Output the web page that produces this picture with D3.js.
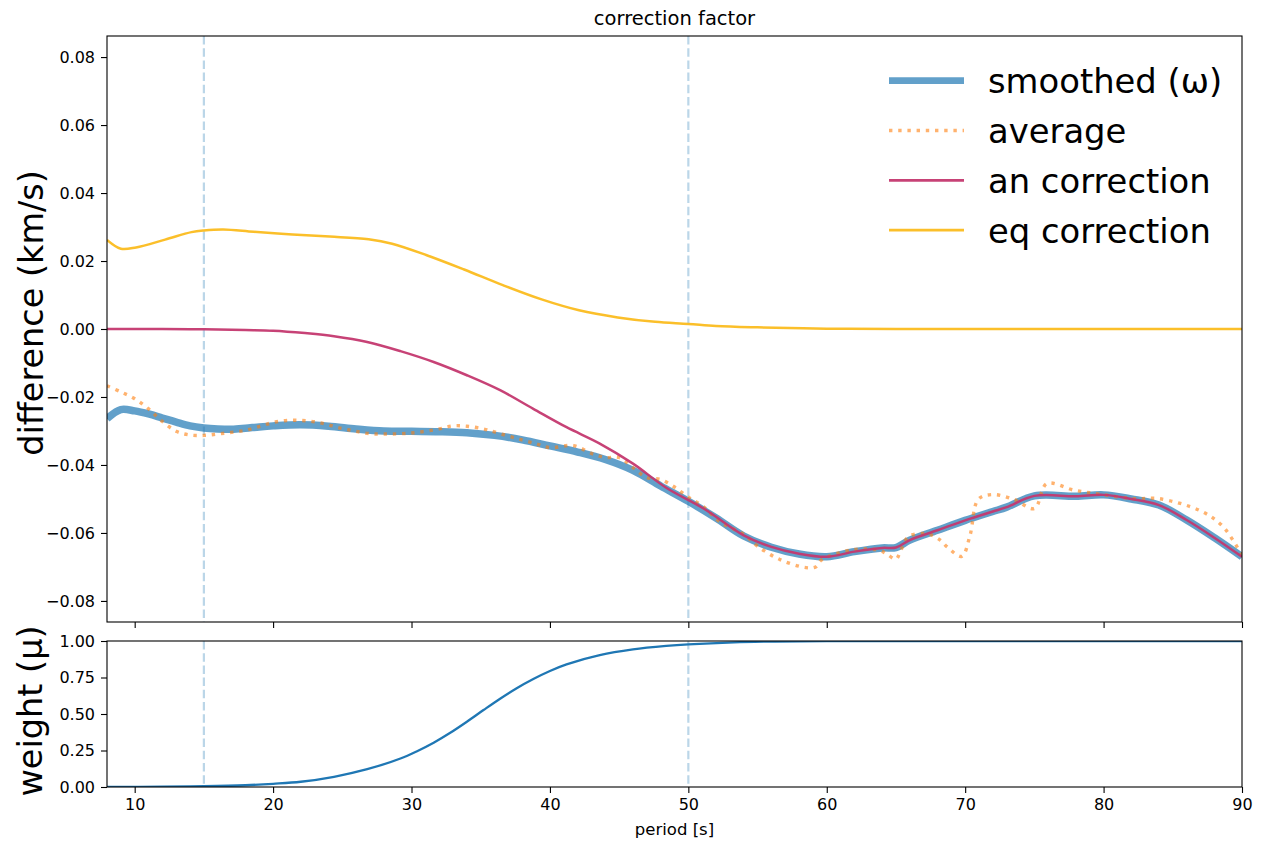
<!DOCTYPE html>
<html>
<head>
<meta charset="utf-8">
<script src="https://cdn.jsdelivr.net/npm/d3@7"></script>
<style>
  body { margin: 0; background: #fff; }
  text { font-family: "DejaVu Sans", sans-serif; fill: #000; }
</style>
</head>
<body>
<div id="chart"></div>
<script>
// smoothed (omega)
var smoothPeriod = [8, 9, 10, 11, 12, 13, 14, 15, 16, 17, 18, 19, 20, 22, 24, 26, 28, 30, 32, 34, 36, 38, 40, 42, 44, 46, 48, 50, 52, 54, 56, 58, 60, 62, 64, 65, 66, 68, 70, 72, 73, 75, 78, 80, 82, 84, 86, 88, 90]
var smoothValue = [-0.0264, -0.0237, -0.0241, -0.0250, -0.0262, -0.0274, -0.0285, -0.0291, -0.0294, -0.0295, -0.0292, -0.0288, -0.0285, -0.0282, -0.0286, -0.0294, -0.0300, -0.0301, -0.0302, -0.0305, -0.0313, -0.0326, -0.0344, -0.0362, -0.0384, -0.0416, -0.0462, -0.0507, -0.0556, -0.0609, -0.0642, -0.0662, -0.0670, -0.0655, -0.0644, -0.0643, -0.0621, -0.0592, -0.0563, -0.0537, -0.0524, -0.0491, -0.0492, -0.0488, -0.0500, -0.0518, -0.0562, -0.0614, -0.0670]

// average
var avgPeriod = [8, 9, 10, 11, 12, 13, 14, 15, 16, 17, 18, 19, 20, 21, 22, 23, 24, 25, 26, 27, 28, 30, 32, 33, 34, 35.2, 36, 37.6, 39, 40, 41.7, 43, 44, 45, 46, 47, 48, 49, 50, 51, 52.3, 54, 55, 56.6, 58.5, 59.2, 59.6, 61.9, 63.8, 64.3, 65, 65.3, 65.9, 67.2, 68.2, 68.7, 69.75, 70.35, 70.95, 72, 73.5, 75, 75.9, 77.85, 79.75, 82.2, 84, 87, 88.6, 90]
var avgValue = [-0.0167, -0.0185, -0.0205, -0.0235, -0.0272, -0.0301, -0.0312, -0.0313, -0.0309, -0.0304, -0.0298, -0.0287, -0.0275, -0.0269, -0.0269, -0.0273, -0.0282, -0.0293, -0.0301, -0.0308, -0.0309, -0.0306, -0.0294, -0.0285, -0.0286, -0.0294, -0.0303, -0.0322, -0.0338, -0.0349, -0.0343, -0.0366, -0.0378, -0.0378, -0.0408, -0.0437, -0.0443, -0.0465, -0.0495, -0.0520, -0.0568, -0.0604, -0.0639, -0.0678, -0.0702, -0.0700, -0.0680, -0.0649, -0.0651, -0.0661, -0.0677, -0.0656, -0.0611, -0.0602, -0.0621, -0.0641, -0.0669, -0.0607, -0.0501, -0.0487, -0.0501, -0.0528, -0.0455, -0.0474, -0.0486, -0.0499, -0.0499, -0.0535, -0.0580, -0.0666]

// an correction
var anPeriod = [8, 12, 15, 18, 20, 22.3, 24.4, 26.8, 29.2, 31.6, 34, 36.4, 38.8, 41.2, 43.6, 46, 48.4, 51.1, 54, 56, 58, 60, 62, 64, 65, 66, 68, 70, 72, 73, 75, 78, 80, 82, 84, 86, 88, 90]
var anValue = [0, 0, -0.0001, -0.0003, -0.0005, -0.0012, -0.0021, -0.0038, -0.0065, -0.0097, -0.0136, -0.0180, -0.0235, -0.0289, -0.0337, -0.0396, -0.0467, -0.0528, -0.0607, -0.0641, -0.0661, -0.0670, -0.0655, -0.0644, -0.0643, -0.0621, -0.0592, -0.0563, -0.0537, -0.0524, -0.0491, -0.0492, -0.0488, -0.0500, -0.0518, -0.0562, -0.0614, -0.0670]

// eq correction
var eqPeriod = [8, 9, 10.1, 12.2, 14.1, 15, 16.4, 18.6, 21.4, 24.1, 26.9, 28.6, 31.1, 33.8, 36.6, 39.4, 42.1, 44.9, 47.6, 50, 52, 55, 60, 65, 90]
var eqValue = [0.0262, 0.0236, 0.0240, 0.0263, 0.0285, 0.0290, 0.0293, 0.0286, 0.0278, 0.0272, 0.0264, 0.0251, 0.0217, 0.0175, 0.0129, 0.0087, 0.0055, 0.0034, 0.0021, 0.0015, 0.0009, 0.0005, 0.0001, 0, 0]

// weight (mu)
var weightPeriod = [8, 12, 15, 18, 20, 22, 24.4, 26.8, 29.2, 30.4, 31.6, 32.8, 34, 35.2, 36.4, 37.6, 38.8, 40, 41.2, 43.6, 46, 48.4, 50, 53.3, 56, 60, 70, 90]
var weightValue = [0.001, 0.002, 0.005, 0.012, 0.022, 0.036, 0.070, 0.122, 0.195, 0.245, 0.303, 0.371, 0.447, 0.527, 0.605, 0.677, 0.740, 0.795, 0.840, 0.903, 0.942, 0.966, 0.977, 0.991, 0.996, 0.999, 1.0, 1.0]

var markerPeriods = [15, 50]
var xTicks = [10, 20, 30, 40, 50, 60, 70, 80, 90]
var topTicks = [-0.08, -0.06, -0.04, -0.02, 0.00, 0.02, 0.04, 0.06, 0.08]
var bottomTicks = [0, 0.25, 0.5, 0.75, 1.0]
var legendLabels = ['smoothed (ω)', 'average', 'an correction', 'eq correction']

function zip(px, vals){
    return px.map(function(p, i){ return {x: p, y: vals[i]} })
}

var W = 1261, H = 842
var left = 107, right = 1242
var top1 = 36, bot1 = 622
var top2 = 641, bot2 = 787

var svg = d3.select("#chart").append("svg")
    .attr("width", W)
    .attr("height", H)

var x = d3.scaleLinear().domain([8, 90]).range([left, right])
var y1 = d3.scaleLinear().domain([-0.0862, 0.0862]).range([bot1, top1])
var y2 = d3.scaleLinear().domain([0, 1]).range([bot2, top2])

var minus = function(v, digits){ return d3.format("." + digits + "f")(v).replace("-", "\u2212") }

// clip paths for both panels
var defs = svg.append("defs")
defs.append("clipPath").attr("id", "clipTop").append("rect")
    .attr("x", left).attr("y", top1).attr("width", right - left).attr("height", bot1 - top1)
defs.append("clipPath").attr("id", "clipBot").append("rect")
    .attr("x", left).attr("y", top2).attr("width", right - left).attr("height", bot2 - top2)

var lineTop = d3.line().x(function(d){ return x(d.x) }).y(function(d){ return y1(d.y) }).curve(d3.curveCatmullRom.alpha(0.5))
var lineBot = d3.line().x(function(d){ return x(d.x) }).y(function(d){ return y2(d.y) }).curve(d3.curveCatmullRom.alpha(0.5))

var gTop = svg.append("g").attr("clip-path", "url(#clipTop)")
var gBot = svg.append("g").attr("clip-path", "url(#clipBot)")

// dashed markers
markerPeriods.forEach(function(p){
    gTop.append("line").attr("x1", x(p)).attr("x2", x(p)).attr("y1", top1).attr("y2", bot1)
        .attr("stroke", "#1f77b4").attr("stroke-opacity", 0.3).attr("stroke-width", 2.2).attr("stroke-dasharray", "8.5,3.7")
    gBot.append("line").attr("x1", x(p)).attr("x2", x(p)).attr("y1", top2).attr("y2", bot2)
        .attr("stroke", "#1f77b4").attr("stroke-opacity", 0.3).attr("stroke-width", 2.2).attr("stroke-dasharray", "8.5,3.7")
})

var series = [
    {data: zip(smoothPeriod, smoothValue), color: "#1f77b4", opacity: 0.7, width: 7.5, dash: null},
    {data: zip(avgPeriod, avgValue), color: "#ff7f0e", opacity: 0.6, width: 3.4, dash: "3.4,5.8"},
    {data: zip(anPeriod, anValue), color: "#c4386f", opacity: 0.95, width: 2.5, dash: null},
    {data: zip(eqPeriod, eqValue), color: "#fbbc1f", opacity: 0.95, width: 2.5, dash: null}
]

series.forEach(function(s){
    gTop.append("path")
        .attr("d", lineTop(s.data))
        .attr("fill", "none")
        .attr("stroke", s.color)
        .attr("stroke-opacity", s.opacity)
        .attr("stroke-width", s.width)
        .attr("stroke-dasharray", s.dash)
})

gBot.append("path")
    .attr("d", lineBot(zip(weightPeriod, weightValue)))
    .attr("fill", "none")
    .attr("stroke", "#1f77b4")
    .attr("stroke-width", 2.3)

// axes
function styleAxis(g){
    g.select(".domain").remove()
    g.selectAll(".tick line").attr("stroke", "#000").attr("stroke-width", 1.1)
    g.selectAll(".tick text").style("font-family", "DejaVu Sans").style("font-size", "16px").attr("fill", "#000")
}

svg.append("g").attr("transform", "translate(0," + bot1 + ")")
    .call(d3.axisBottom(x).tickValues(xTicks).tickSize(6).tickFormat(""))
    .call(styleAxis)
svg.append("g").attr("transform", "translate(" + left + ",0)")
    .call(d3.axisLeft(y1).tickValues(topTicks).tickSize(6).tickPadding(6).tickFormat(function(d){ return minus(d, 2) }))
    .call(styleAxis)

svg.append("g").attr("transform", "translate(0," + bot2 + ")")
    .call(d3.axisBottom(x).tickValues(xTicks).tickSize(6).tickPadding(6).tickFormat(d3.format("d")))
    .call(styleAxis)
svg.append("g").attr("transform", "translate(" + left + ",0)")
    .call(d3.axisLeft(y2).tickValues(bottomTicks).tickSize(6).tickPadding(6).tickFormat(function(d){ return minus(d, 2) }))
    .call(styleAxis)

// frames
svg.append("rect").attr("x", left).attr("y", top1).attr("width", right - left).attr("height", bot1 - top1)
    .attr("fill", "none").attr("stroke", "#000").attr("stroke-width", 1.1)
svg.append("rect").attr("x", left).attr("y", top2).attr("width", right - left).attr("height", bot2 - top2)
    .attr("fill", "none").attr("stroke", "#000").attr("stroke-width", 1.1)

// labels
svg.append("text").attr("x", (left + right) / 2).attr("y", 25).attr("text-anchor", "middle")
    .style("font-size", "19.5px").text("correction factor")
svg.append("text").attr("x", (left + right) / 2).attr("y", 835).attr("text-anchor", "middle")
    .style("font-size", "16.5px").text("period [s]")
svg.append("text").attr("transform", "translate(43," + 313 + ") rotate(-90)").attr("text-anchor", "middle")
    .style("font-size", "33.5px").text("difference (km/s)")
svg.append("text").attr("transform", "translate(42," + 711 + ") rotate(-90)").attr("text-anchor", "middle")
    .style("font-size", "33.5px").text("weight (μ)")

// legend
var legend = svg.append("g")
legendLabels.forEach(function(lbl, i){
    var s = series[i]
    var ly = 80.7 + i * 49.8
    legend.append("line").attr("x1", 889).attr("x2", 964).attr("y1", ly).attr("y2", ly)
        .attr("stroke", s.color).attr("stroke-opacity", s.opacity)
        .attr("stroke-width", i == 0 ? 6.7 : (i == 1 ? 3.4 : 2.7))
        .attr("stroke-dasharray", s.dash)
    legend.append("text").attr("x", 988).attr("y", ly + 12.5)
        .style("font-size", "33.8px").text(lbl)
})
</script>
</body>
</html>
